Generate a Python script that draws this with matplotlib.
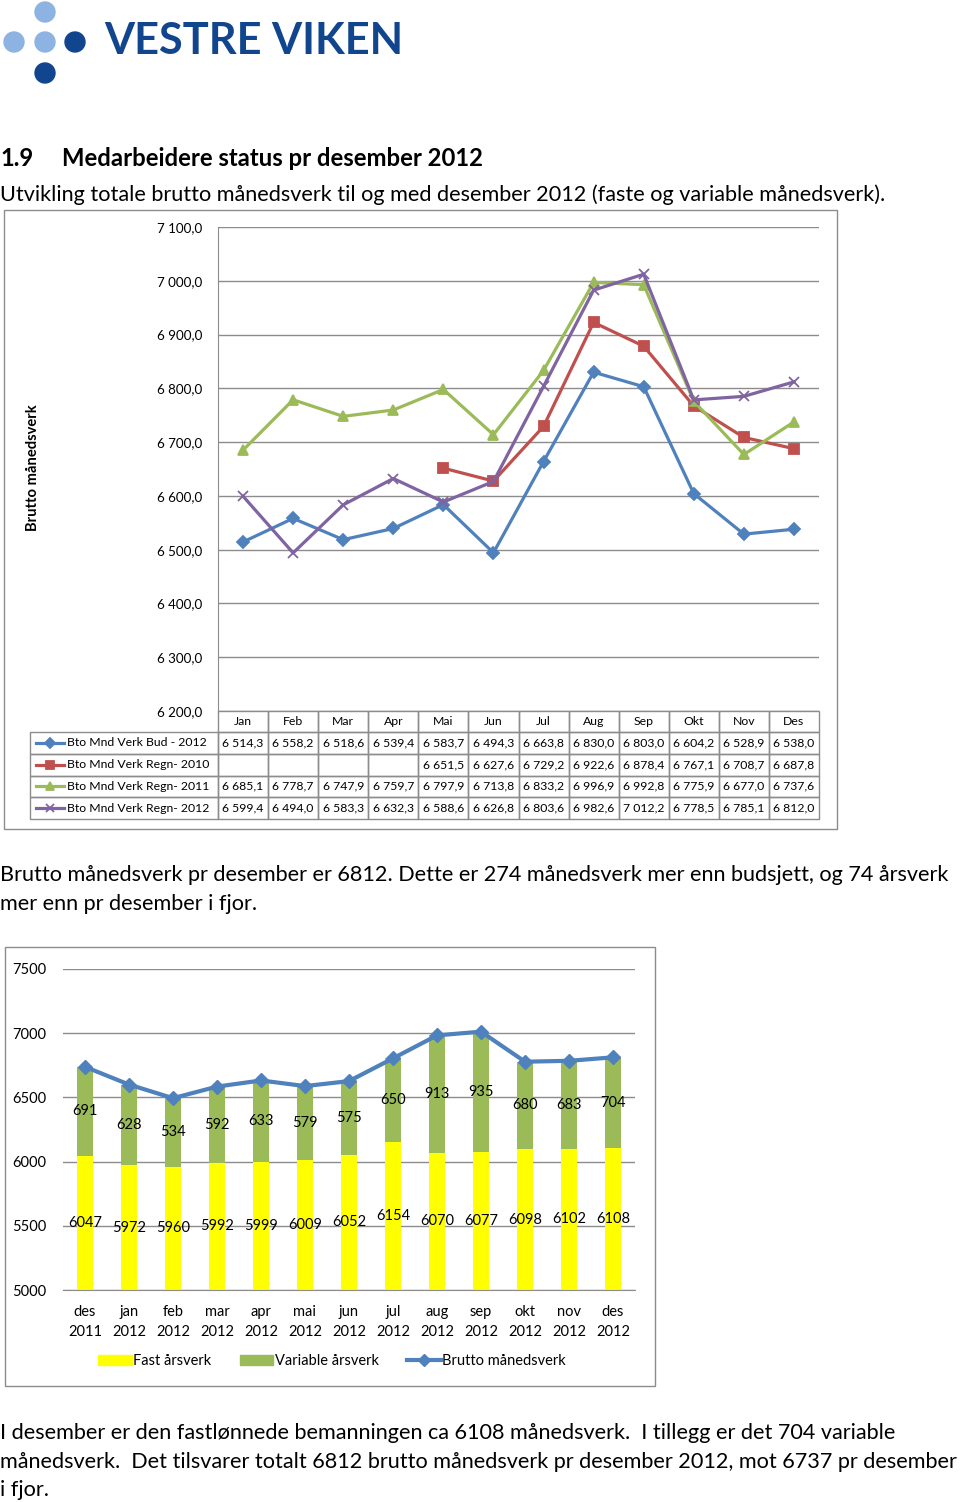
import numpy as np
import matplotlib
matplotlib.use("Agg")
import matplotlib.pyplot as plt
from matplotlib.patches import Rectangle, Circle, Patch
from matplotlib.lines import Line2D
from matplotlib.ticker import FuncFormatter

plt.rcParams['font.family'] = ['Lato', 'DejaVu Sans']

# chart 1: brutto månedsverk per month
months = ['Jan', 'Feb', 'Mar', 'Apr', 'Mai', 'Jun', 'Jul', 'Aug', 'Sep', 'Okt', 'Nov', 'Des']
bud_2012 = [6514.3, 6558.2, 6518.6, 6539.4, 6583.7, 6494.3, 6663.8, 6830.0, 6803.0, 6604.2, 6528.9, 6538.0]
regn_2010 = [np.nan, np.nan, np.nan, np.nan, 6651.5, 6627.6, 6729.2, 6922.6, 6878.4, 6767.1, 6708.7, 6687.8]
regn_2011 = [6685.1, 6778.7, 6747.9, 6759.7, 6797.9, 6713.8, 6833.2, 6996.9, 6992.8, 6775.9, 6677.0, 6737.6]
regn_2012 = [6599.4, 6494.0, 6583.3, 6632.3, 6588.6, 6626.8, 6803.6, 6982.6, 7012.2, 6778.5, 6785.1, 6812.0]
series_names = ['Bto Mnd Verk Bud - 2012', 'Bto Mnd Verk Regn- 2010',
                'Bto Mnd Verk Regn- 2011', 'Bto Mnd Verk Regn- 2012']

# chart 2: fast / variable årsverk
periods = ['des\n2011', 'jan\n2012', 'feb\n2012', 'mar\n2012', 'apr\n2012', 'mai\n2012', 'jun\n2012',
           'jul\n2012', 'aug\n2012', 'sep\n2012', 'okt\n2012', 'nov\n2012', 'des\n2012']
fast = [6047, 5972, 5960, 5992, 5999, 6009, 6052, 6154, 6070, 6077, 6098, 6102, 6108]
variable = [691, 628, 534, 592, 633, 579, 575, 650, 913, 935, 680, 683, 704]
brutto = [6738, 6600, 6494, 6584, 6632, 6588, 6627, 6804, 6983, 7012, 6778, 6785, 6812]

W, H = 960, 1502
GRAY = '#8c8c8c'
BLUE, RED, GREEN, PURPLE = '#4F81BD', '#C0504D', '#9BBB59', '#8064A2'
BODY = 15.6


def fmt(v):
    return f"{v:,.1f}".replace(",", " ").replace(".", ",")


fig = plt.figure(figsize=(W / 100, H / 100), dpi=100)


def px_axes(x0, y0, x1, y1, **kw):
    return fig.add_axes([x0 / W, 1 - y1 / H, (x1 - x0) / W, (y1 - y0) / H], **kw)


page = fig.add_axes([0, 0, 1, 1], zorder=0)
page.set_xlim(0, W)
page.set_ylim(H, 0)
page.axis('off')

# logo
light, dark = '#8DB3E2', '#11468F'
for (cx, cy), c in zip([(45, 12), (14, 42), (45, 42), (75, 42), (45, 73)],
                       [light, light, light, dark, dark]):
    page.add_patch(Circle((cx, cy), 10, color=c))
page.text(104, 54, 'VESTRE VIKEN', color=dark, fontsize=31.2, fontweight='bold', va='baseline')

page.text(0, 166, '1.9', fontsize=17.2, fontweight='bold', va='baseline')
page.text(62, 166, 'Medarbeidere status pr desember 2012', fontsize=17.2, fontweight='bold', va='baseline')
page.text(0, 201, 'Utvikling totale brutto månedsverk til og med desember 2012 '
          '(faste og variable månedsverk).', fontsize=BODY, va='baseline')

page.text(0, 881, 'Brutto månedsverk pr desember er 6812. Dette er 274 månedsverk mer enn budsjett, '
          'og 74 årsverk', fontsize=BODY, va='baseline')
page.text(0, 910, 'mer enn pr desember i fjor.', fontsize=BODY, va='baseline')
page.text(0, 1439, 'I desember er den fastlønnede bemanningen ca 6108 månedsverk.  I tillegg er det '
          '704 variable', fontsize=BODY, va='baseline')
page.text(0, 1468, 'månedsverk.  Det tilsvarer totalt 6812 brutto månedsverk pr desember 2012, mot '
          '6737 pr desember', fontsize=BODY, va='baseline')
page.text(0, 1496, 'i fjor.', fontsize=BODY, va='baseline')

# chart frames
page.add_patch(Rectangle((4, 210), 833, 619, fill=False, ec=GRAY, lw=1))
page.add_patch(Rectangle((5, 947), 650, 439, fill=False, ec=GRAY, lw=1))

# ---- chart 1
ax1 = px_axes(218, 227, 819, 711, zorder=2)
ax1.set_facecolor('none')
x = np.arange(len(months))
styles = [(bud_2012, BLUE, 'D', 6), (regn_2010, RED, 's', 7),
          (regn_2011, GREEN, '^', 7), (regn_2012, PURPLE, 'x', 7)]
for vals, c, m, ms in styles:
    ax1.plot(x, vals, color=c, lw=2.3, marker=m, ms=ms, mew=1.3)
ax1.set_xlim(-0.5, 11.5)
ax1.set_ylim(6200, 7100)
ax1.set_yticks(np.arange(6200, 7101, 100))
ax1.yaxis.set_major_formatter(FuncFormatter(lambda v, p: fmt(v)))
ax1.set_xticks([])
ax1.tick_params(axis='y', length=0, pad=11, labelsize=9.6)
ax1.grid(axis='y', color=GRAY, lw=1)
ax1.set_axisbelow(True)
for s in ['top', 'right', 'bottom']:
    ax1.spines[s].set_visible(False)
ax1.spines['left'].set_color(GRAY)
page.text(33, 468, 'Brutto månedsverk', rotation=90, fontsize=10.6, fontweight='bold',
          ha='center', va='center')

# data table under chart 1
tx0, tx1, lab_x0 = 218, 819, 30
col_w = (tx1 - tx0) / len(months)
row_top = [711, 732, 753.75, 775.5, 797.25]
row_h = [21, 21.75, 21.75, 21.75, 21.75]
TFS = 8.8
for j, m in enumerate(months):
    page.add_patch(Rectangle((tx0 + j * col_w, row_top[0]), col_w, row_h[0], fill=False, ec=GRAY, lw=1))
    page.text(tx0 + (j + 0.5) * col_w, row_top[0] + row_h[0] / 2, m, fontsize=TFS, ha='center', va='center')
for i, (vals, c, mk, ms) in enumerate(styles):
    top, h = row_top[i + 1], row_h[i + 1]
    yc = top + h / 2
    page.add_patch(Rectangle((lab_x0, top), tx0 - lab_x0, h, fill=False, ec=GRAY, lw=1))
    page.add_line(Line2D([36, 64], [yc, yc], color=c, lw=2.3))
    page.add_line(Line2D([50], [yc], color=c, marker=mk, ms=ms - 1, mew=1.3))
    page.text(67, yc, series_names[i], fontsize=TFS, va='center', ha='left')
    for j, v in enumerate(vals):
        page.add_patch(Rectangle((tx0 + j * col_w, top), col_w, h, fill=False, ec=GRAY, lw=1))
        if not np.isnan(v):
            page.text(tx0 + (j + 0.5) * col_w, yc, fmt(v), fontsize=TFS, ha='center', va='center')

# ---- chart 2
ax2 = px_axes(63, 969, 635, 1290, zorder=2)
ax2.set_facecolor('none')
x2 = np.arange(len(periods))
bw = 0.375
ax2.bar(x2, fast, bw, color='#FFFF00', label='Fast årsverk', zorder=2)
ax2.bar(x2, variable, bw, bottom=fast, color=GREEN, label='Variable årsverk', zorder=2)
ax2.plot(x2, brutto, color=BLUE, lw=3, marker='D', ms=7, label='Brutto månedsverk', zorder=3)
ax2.set_xlim(-0.5, 12.5)
ax2.set_ylim(5000, 7500)
ax2.set_yticks(np.arange(5000, 7501, 500))
ax2.set_xticks(x2)
ax2.set_xticklabels(periods, linespacing=1.55)
ax2.tick_params(axis='both', length=0, labelsize=10.5)
ax2.tick_params(axis='y', pad=12)
ax2.tick_params(axis='x', pad=11)
ax2.grid(axis='y', color=GRAY, lw=1, zorder=0)
ax2.set_axisbelow(True)
for s in ['top', 'right', 'left']:
    ax2.spines[s].set_visible(False)
ax2.spines['bottom'].set_color(GRAY)
for i in range(len(periods)):
    ax2.text(i, (5000 + fast[i]) / 2, str(fast[i]), ha='center', va='center', fontsize=10.5, zorder=4)
    ax2.text(i, fast[i] + variable[i] / 2, str(variable[i]), ha='center', va='center',
             fontsize=10.5, zorder=4)

handles = [Patch(color='#FFFF00'), Patch(color=GREEN),
           Line2D([], [], color=BLUE, lw=3, marker='D', ms=6)]
fig.legend(handles, ['Fast årsverk', 'Variable årsverk', 'Brutto månedsverk'],
           loc='center', bbox_to_anchor=(332, 1361), bbox_transform=page.transData,
           ncol=3, frameon=False, fontsize=10.5, handlelength=2.3, handleheight=0.7,
           handletextpad=0.1, columnspacing=1.95)

fig.savefig('out.png', dpi=100)
